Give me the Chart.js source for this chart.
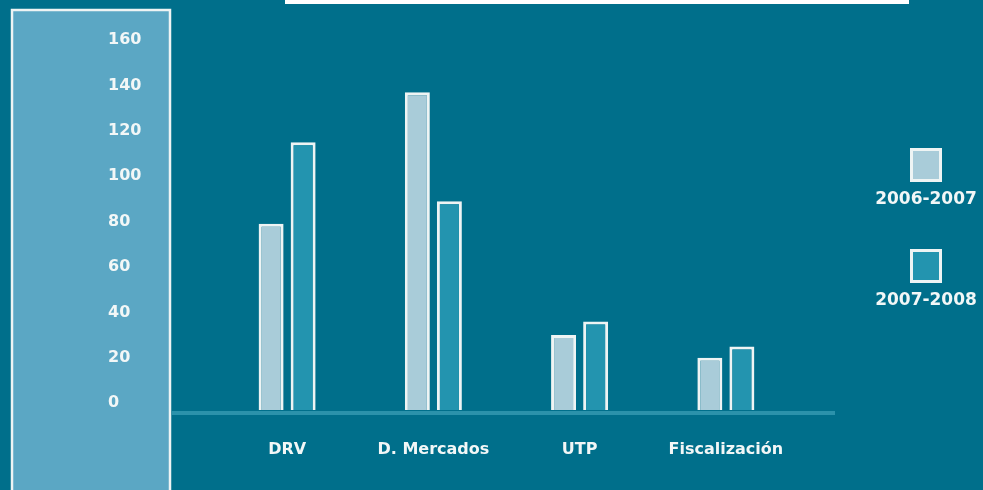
<!DOCTYPE html>
<html>
<head>
<meta charset="utf-8">
<script src="https://cdn.jsdelivr.net/npm/chart.js@4"></script>
<style>
  html, body { margin: 0; padding: 0; background: #006f8b; }
  #wrap { width: 983px; height: 490px; }
</style>
</head>
<body>
<div id="wrap"><canvas id="c" width="983" height="490"></canvas></div>
<script>
// ---- data ----
const categories = ['DRV', 'D. Mercados', 'UTP', 'Fiscalización'];
const seriesLabels = ['2006-2007', '2007-2008'];
const values2006 = [79, 137, 30, 20];
const values2007 = [115, 89, 36, 25];
const yTicks = [0, 20, 40, 60, 80, 100, 120, 140, 160];

const BG = '#006f8b';
const PANEL = '#5ba7c4';
const LIGHT = '#a9ccd9';
const DARK = '#2394af';
const EDGE = '#eef4f4';
const TXT = '#f2f7f7';
const FONT = "'DejaVu Sans', Verdana, sans-serif";

const decorPlugin = {
  id: 'decor',
  beforeDraw(chart) {
    const ctx = chart.ctx;
    ctx.save();
    ctx.fillStyle = BG;
    ctx.fillRect(0, 0, chart.width, chart.height);
    // left panel
    ctx.fillStyle = PANEL;
    ctx.fillRect(12, 10, 158, chart.height);
    ctx.strokeStyle = EDGE;
    ctx.lineWidth = 2.5;
    ctx.strokeRect(12, 10, 158, chart.height + 10);
    // top white strip
    ctx.fillStyle = '#ffffff';
    ctx.fillRect(285, 0, 624, 4);
    ctx.restore();
  },
  beforeDatasetsDraw(chart) {
    const ctx = chart.ctx;
    const y = chart.scales.y.getPixelForValue(chart.scales.y.min);
    ctx.save();
    ctx.strokeStyle = '#2b92ab';
    ctx.lineWidth = 4;
    ctx.beginPath();
    ctx.moveTo(172, y + 3);
    ctx.lineTo(835, y + 3);
    ctx.stroke();
    ctx.restore();
  },
  afterDraw(chart) {
    // legend: box above label, stacked vertically
    const ctx = chart.ctx;
    ctx.save();
    const cx = 926;
    const tops = [148, 249];
    chart.data.datasets.forEach((ds, i) => {
      const t = tops[i];
      ctx.fillStyle = ds.backgroundColor;
      ctx.fillRect(cx - 16, t, 32, 34);
      ctx.strokeStyle = EDGE;
      ctx.lineWidth = 3;
      ctx.strokeRect(cx - 16 + 1.5, t + 1.5, 29, 31);
      ctx.fillStyle = TXT;
      ctx.font = 'bold 17px ' + FONT;
      ctx.textAlign = 'center';
      ctx.textBaseline = 'middle';
      ctx.fillText(ds.label, cx, t + 52);
    });
    ctx.restore();
  }
};

new Chart(document.getElementById('c'), {
  type: 'bar',
  data: {
    labels: categories,
    datasets: [
      { label: seriesLabels[0], data: values2006, backgroundColor: LIGHT },
      { label: seriesLabels[1], data: values2007, backgroundColor: DARK }
    ]
  },
  options: {
    responsive: false,
    animation: false,
    layout: { padding: { left: 108, right: 184, top: 40, bottom: 0 } },
    datasets: {
      bar: {
        base: -3,
        categoryPercentage: 0.438,
        barPercentage: 0.78,
        borderColor: EDGE,
        borderWidth: 3,
        borderSkipped: 'start'
      }
    },
    plugins: {
      legend: { display: false },
      tooltip: { enabled: false },
      title: { display: false }
    },
    scales: {
      x: {
        grid: { display: false, drawTicks: false },
        border: { display: false },
        ticks: { color: TXT, font: { family: FONT, size: 16, weight: 'bold' }, padding: 30 },
        afterFit(scale) { scale.height = 80; scale.paddingLeft = 0; scale.paddingRight = 0; }
      },
      y: {
        min: -3,
        max: 160,
        grid: { display: false, drawTicks: false },
        border: { display: false },
        ticks: {
          color: TXT,
          font: { family: FONT, size: 16, weight: 'bold' },
          padding: 72,
          crossAlign: 'far',
          stepSize: 20
        },
        afterBuildTicks(scale) {
          scale.ticks = yTicks.map(v => ({ value: v }));
        },
        afterFit(scale) { scale.width = 106; scale.paddingTop = 0; scale.paddingBottom = 0; }
      }
    }
  },
  plugins: [decorPlugin]
});
</script>
</body>
</html>
